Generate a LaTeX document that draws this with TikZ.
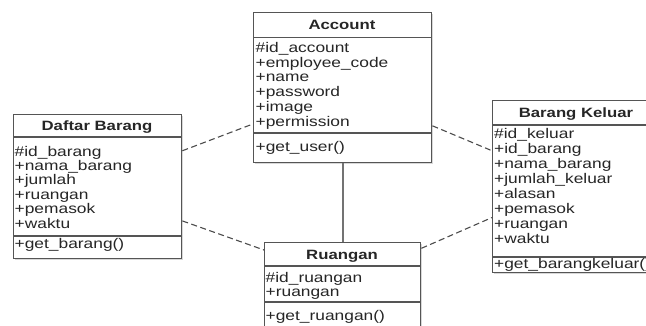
\documentclass[tikz,border=0pt]{standalone}
\usepackage{fontspec}
\newfontfamily\umlfont[FakeStretch=1.24]{Liberation Sans}
\usetikzlibrary{shadows}
\definecolor{edge}{HTML}{555555}
\definecolor{wire}{HTML}{4C4C4C}
\definecolor{ink}{HTML}{262626}
\begin{document}
\begin{tikzpicture}[x=1pt,y=-1pt,
  classbox/.style={draw=edge, line width=1.4pt, fill=white, inner sep=0pt, anchor=north west,
    drop shadow={shadow xshift=1.3pt, shadow yshift=-1.3pt, fill=black!30, opacity=0.5}},
  title/.style={anchor=base, inner sep=0pt, font=\umlfont\bfseries\fontsize{13.5}{15}\selectfont, text=ink},
  member/.style={anchor=base west, inner sep=0pt, font=\umlfont\fontsize{14}{15}\selectfont, text=ink},
  assoc/.style={draw=wire, line width=1.1pt, dash pattern=on 6pt off 3.5pt},
  link/.style={draw=black!55, line width=2pt},
  rule/.style={draw=edge, line width=1.1pt}]

\fill[white] (0,0) rectangle (646,325);
\useasboundingbox (0,0) rectangle (646,325);

% class boxes
\node[classbox, minimum width=178pt, minimum height=150pt] (account) at (253,12) {};
\node[classbox, minimum width=168pt, minimum height=144pt] (daftar) at (13,114) {};
\node[classbox, minimum width=168pt, minimum height=172pt] (keluar) at (492,100) {};
\node[classbox, minimum width=156pt, minimum height=88pt] (ruangan) at (264,242) {};

% associations
\draw[link] (account.south) -- (ruangan.north);
\draw[assoc] (daftar.23.2) -- (account.202.5);
\draw[assoc] (daftar.338) -- (ruangan.155.4);
\draw[assoc] (account.337.5) -- (keluar.157);
\draw[assoc] (ruangan.26.4) -- (keluar.200.6);

% compartment rules
\draw[rule] ([yshift=-25.5pt]account.north west) -- ([yshift=-25.5pt]account.north east);
\draw[rule] ([yshift=-121pt]account.north west) -- ([yshift=-121pt]account.north east);
\draw[rule] ([yshift=-23pt]daftar.north west) -- ([yshift=-23pt]daftar.north east);
\draw[rule] ([yshift=-122pt]daftar.north west) -- ([yshift=-122pt]daftar.north east);
\draw[rule] ([yshift=-25pt]keluar.north west) -- ([yshift=-25pt]keluar.north east);
\draw[rule] ([yshift=-157pt]keluar.north west) -- ([yshift=-157pt]keluar.north east);
\draw[rule] ([yshift=-24pt]ruangan.north west) -- ([yshift=-24pt]ruangan.north east);
\draw[rule] ([yshift=-60pt]ruangan.north west) -- ([yshift=-60pt]ruangan.north east);

% Account
\node[title] (acc-t) at (342,29.5) {Account};
\foreach \t [count=\i] in {{\#id\_account},{+employee\_code},{+name},{+password},{+image},{+permission}}
  \node[member] (acc-\i) at (255.5,{52.5+14.7*(\i-1)}) {\t};
\node[member] (acc-m) at (255.5,151) {+get\_user()};

% Daftar Barang
\node[title] (dft-t) at (97,130.5) {Daftar Barang};
\foreach \t [count=\i] in {{\#id\_barang},{+nama\_barang},{+jumlah},{+ruangan},{+pemasok},{+waktu}}
  \node[member] (dft-\i) at (14.5,{156+14.4*(\i-1)}) {\t};
\node[member] (dft-m) at (14.5,248) {+get\_barang()};

% Barang Keluar
\node[title] (kel-t) at (576,117) {Barang Keluar};
\foreach \t [count=\i] in {{\#id\_keluar},{+id\_barang},{+nama\_barang},{+jumlah\_keluar},{+alasan},{+pemasok},{+ruangan},{+waktu}}
  \node[member] (kel-\i) at (494,{138+15*(\i-1)}) {\t};
\node[member] (kel-m) at (494,268) {+get\_barangkeluar()};

% Ruangan
\node[title] (rng-t) at (342,259) {Ruangan};
\node[member] (rng-1) at (265.5,282) {\#id\_ruangan};
\node[member] (rng-2) at (265.5,296.5) {+ruangan};
\node[member] (rng-m) at (265.5,320) {+get\_ruangan()};
\end{tikzpicture}
\end{document}
